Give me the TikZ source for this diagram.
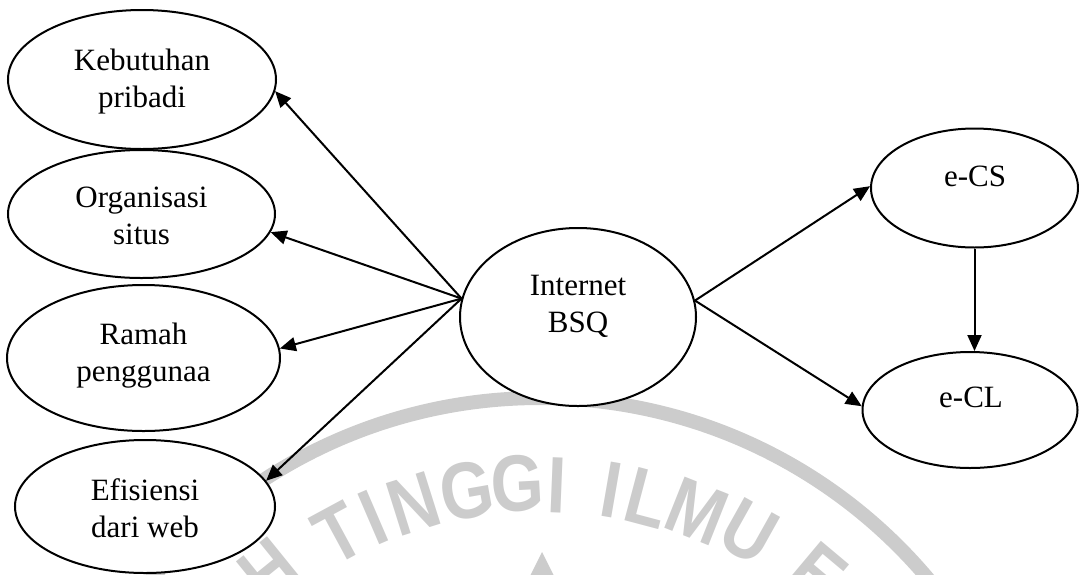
\documentclass[tikz,border=0pt]{standalone}
\usepackage{fontspec}
\setmainfont{Liberation Serif}
\newfontfamily\wmfont{Liberation Sans}[FakeStretch=0.85]
\usetikzlibrary{shapes.geometric,arrows.meta}
\definecolor{wmgray}{RGB}{204,204,204}

\begin{document}
\begin{tikzpicture}[x=1pt,y=-1pt,
  blob/.style={ellipse,draw,line width=2pt,fill=white,inner sep=0pt},
  txt/.style={inner sep=0pt,align=center,font=\fontsize{31}{37}\selectfont},
  link/.style={line width=2pt,-{Triangle[length=16pt,width=14pt]}},
  wmletter/.style={text=wmgray,inner sep=0pt,font=\wmfont\bfseries\fontsize{80}{80}\selectfont}]
\useasboundingbox (0,0) rectangle (1079,574);

% faint seal in the background
\coordinate (seal) at (540,905);
\draw[wmgray,line width=14pt] (seal) circle [radius=507pt];
\foreach \ch/\ang/\rad in {H/-39/430,T/-28.4/423,I/-23.3/422,N/-17.5/421,G/-10/421,G/-3/422,
                           I/2.3/420,I/9.8/421,L/14.8/421,M/21.7/424,U/29.2/428,E/40/432}
  \node[wmletter,rotate=-\ang] (seal-\ch-\ang) at ({540+\rad*sin(\ang)},{905-\rad*cos(\ang)}) {\ch};
\fill[wmgray] (542,552) -- (527,582) -- (557,582) -- cycle;

% constructs
\node[blob,minimum width=268pt,minimum height=139pt] (keb) at (142,79.5) {};
\node[blob,minimum width=267pt,minimum height=128pt] (org) at (141.5,214) {};
\node[blob,minimum width=273pt,minimum height=146pt] (ram) at (143.5,358) {};
\node[blob,minimum width=260pt,minimum height=133pt] (efi) at (145,506.5) {};
\node[blob,minimum width=236pt,minimum height=178pt] (bsq) at (578,317) {};
\node[blob,minimum width=207pt,minimum height=119pt] (ecs) at (974.5,188) {};
\node[blob,minimum width=215pt,minimum height=116pt] (ecl) at (970,410) {};

% their names
\node[txt] (keb-t) at (142,82) {Kebutuhan\\pribadi};
\node[txt] (org-t) at (141.5,215.4) {Organisasi\\situs};
\node[txt] (ram-t) at (143.5,356) {Ramah\\penggunaa};
\node[txt] (efi-t) at (145,507.8) {Efisiensi\\dari web};
\node[txt] (bsq-t) at (578,306.6) {Internet\\BSQ};
\node[txt] (ecs-t) at (975,176.5) {e-CS};
\node[txt] (ecl-t) at (971,397.8) {e-CL};

% paths
\coordinate (lp) at (bsq.171.7);
\coordinate (rp) at (bsq.8.3);
\draw[link] (lp) -- (keb.-5.8);
\draw[link] (lp) -- (org.-8.5);
\draw[link] (lp) -- (ram.4.7);
\draw[link] (lp) -- (efi.12);
\draw[link] (rp) -- (ecs.179);
\draw[link] (rp) -- (ecl.178);
\draw[link] (ecs.south) -- (ecs.south |- ecl.north);
\end{tikzpicture}
\end{document}
